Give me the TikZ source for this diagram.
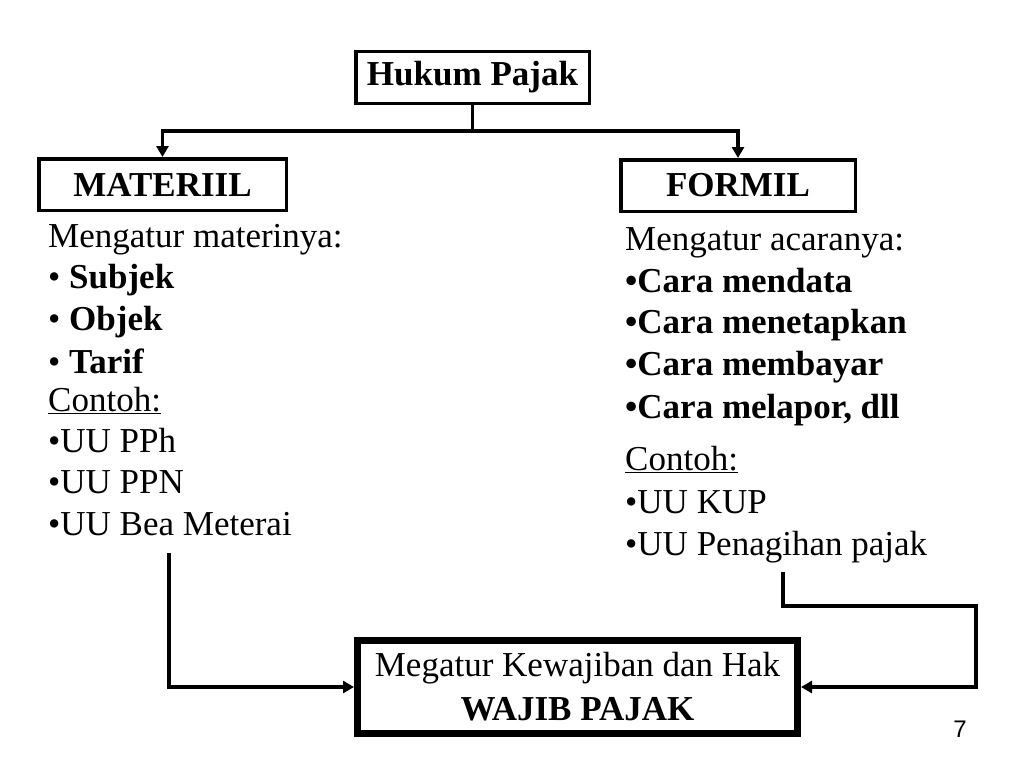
\documentclass[tikz,border=0pt]{standalone}
\usepackage{fontspec}
\setmainfont{Liberation Serif}
\newfontfamily\numfont{Liberation Sans}
\usetikzlibrary{arrows.meta}
\begin{document}
\begin{tikzpicture}[x=1pt,y=-1pt,
  boxthin/.style={draw=black,line width=3.5pt,inner sep=0pt,font=\fontsize{35}{40}\selectfont\bfseries},
  boxthick/.style={draw=black,line width=7pt,inner sep=0pt,align=center,font=\fontsize{35}{44}\selectfont},
  conn/.style={line width=3.5pt,-{Triangle[length=11pt,width=12pt]}},
  txt/.style={anchor=base west,inner sep=0pt,font=\fontsize{35}{40}\selectfont}]
\useasboundingbox[fill=white] (0,0) rectangle (1024,768);
% boxes
\node[boxthin,minimum width=233.5pt,minimum height=51.5pt] (hk) at (472.5,77.5) {Hukum Pajak};
\node[boxthin,minimum width=247.5pt,minimum height=51.5pt] (mat) at (162.5,184.5) {MATERIIL};
\node[boxthin,minimum width=234.5pt,minimum height=51.5pt] (for) at (738,185.5) {FORMIL};
\node[boxthick,minimum width=440pt,minimum height=93pt] (wp) at (577.5,687) {Megatur Kewajiban dan Hak\\\textbf{WAJIB PAJAK}};
% left text
\node[txt] (l1) at (48,247) {Mengatur materinya:};
\node[txt] (l2) at (48,288) {• \textbf{Subjek}};
\node[txt] (l3) at (48,330) {• \textbf{Objek}};
\node[txt] (l4) at (48,373) {• \textbf{Tarif}};
\node[txt] (l5) at (48,411) {\underline{Contoh:}};
\node[txt] (l6) at (48,452) {•UU PPh};
\node[txt] (l7) at (48,493) {•UU PPN};
\node[txt] (l8) at (48,535) {•UU Bea Meterai};
% right text
\node[txt] (r1) at (625,250) {Mengatur acaranya:};
\node[txt] (r2) at (625,292) {\textbf{•Cara mendata}};
\node[txt] (r3) at (625,333) {\textbf{•Cara menetapkan}};
\node[txt] (r4) at (625,375) {\textbf{•Cara membayar}};
\node[txt] (r5) at (625,418) {\textbf{•Cara melapor, dll}};
\node[txt] (r6) at (625,470) {\underline{Contoh:}};
\node[txt] (r7) at (625,513) {•UU KUP};
\node[txt] (r8) at (625,555) {•UU Penagihan pajak};
% page number
\node[anchor=base,inner sep=0pt,font=\numfont\fontsize{24}{28}\selectfont] (pn) at (960,737) {7};
% connectors
\draw[conn] (hk.south) -- ++(0,26) -| (mat.north);
\draw[conn] (hk.south) -- ++(0,26) -| (for.north);
\coordinate (c1) at (169,553);
\coordinate (c2) at (783,572);
\draw[conn] (c1) |- (wp.west);
\draw[conn] (c2) -- (783,606) -- (976,606) |- (wp.east);
\end{tikzpicture}
\end{document}
